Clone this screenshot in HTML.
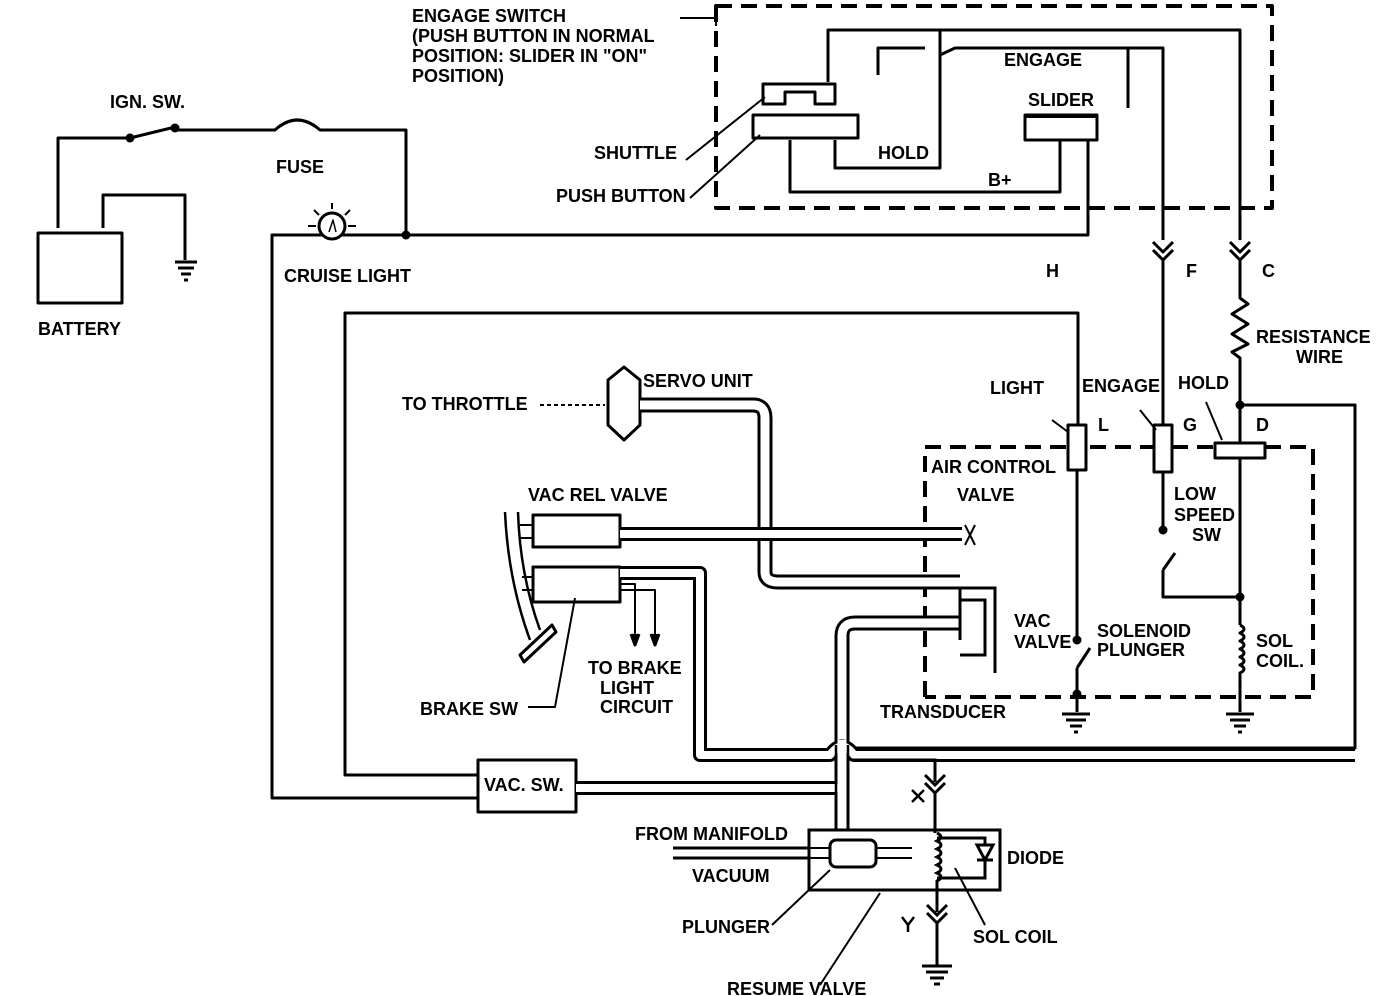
<!DOCTYPE html>
<html><head><meta charset="utf-8"><style>
html,body{margin:0;padding:0;background:#fff;}
svg{display:block}
text{font-family:"Liberation Sans",Arial,sans-serif;font-weight:bold;font-size:18px;fill:#000}
</style></head><body>
<svg width="1392" height="996" viewBox="0 0 1392 996" xmlns="http://www.w3.org/2000/svg">
<g fill="none" stroke="#000" stroke-width="3" stroke-linejoin="round">
<rect x="716" y="6" width="556" height="202" stroke-width="4" stroke-dasharray="16,9"/>
<path d="M680,18 H716 V26" stroke-width="2"/>
<path d="M763,104 V84 H835 V104 H815 V92 H785 V104 Z"/>
<rect x="753" y="115" width="105" height="23"/>
<rect x="1025" y="115" width="72" height="25"/>
<path d="M1025,116 H1097" stroke-width="4"/>
<path d="M828,82 V30 H1240 V240"/>
<path d="M940,30 V168 H835 V140"/>
<path d="M940,55 L955,48 H1163 V240"/>
<path d="M925,48 H878 V75"/>
<path d="M1128,48 V108"/>
<path d="M790,140 V192 H1060 V140"/>
<path d="M1088,140 V235 H272 V798 H478"/>
<path d="M686,160 L765,97 M690,198 L760,135" stroke-width="2"/>
<rect x="38" y="233" width="84" height="70"/>
<path d="M58,228 V138 H130 L175,127 M175,130 H275 Q297,110 320,130 H406 V235"/>
<path d="M103,228 V195 H185 V260"/>
<circle cx="130" cy="138" r="3" fill="#000"/><circle cx="175" cy="128" r="3" fill="#000"/>
<circle cx="406" cy="235" r="3" fill="#000"/>
<path d="M175,262 H197 M178,268 H194 M181,274 H191 M184,280 H188"/>
<circle cx="332" cy="226" r="13" fill="#fff"/>
<path d="M332,203 V209 M314,210 L319,215 M350,210 L345,215 M308,226 H316 M348,226 H356" stroke-width="2"/>
<path d="M329,232 L333,220 L336,232" stroke-width="1.5"/>
<path d="M478,775 H345 V313 H1078 V425"/>
<rect x="478" y="760" width="98" height="52" fill="#fff"/>
<path d="M1153,242 L1163,252 L1173,242 M1153,250 L1163,260 L1173,250"/>
<path d="M1230,242 L1240,252 L1250,242 M1230,250 L1240,260 L1250,250"/>
<path d="M1163,260 V425"/>
<path d="M1240,260 V298 L1248,304 L1232,314 L1248,324 L1232,334 L1248,344 L1232,352 L1240,358 V443"/>
<path d="M1240,405 H1355 V748 H851"/>
<circle cx="1240" cy="405" r="3" fill="#000"/>
<path d="M925,697 V447 H1066 M1090,447 H1153 M1172,447 H1215 M1265,447 H1313 V697 H925" stroke-width="4" stroke-dasharray="16,9"/>
<rect x="1068" y="425" width="18" height="45" fill="#fff"/>
<rect x="1154" y="425" width="18" height="47" fill="#fff"/>
<rect x="1215" y="443" width="50" height="15" fill="#fff"/>
<path d="M1052,420 L1068,432 M1140,410 L1156,430 M1206,402 L1222,440" stroke-width="2"/>
<path d="M1163,472 V530 M1163,570 L1175,553 M1163,570 V597 H1240"/>
<circle cx="1163" cy="530" r="3" fill="#000"/>
<path d="M1240,458 V625 M1240,625 q8,4 0,8 q8,4 0,8 q8,4 0,8 q8,4 0,8 q8,4 0,8 q8,4 0,8 V712"/>
<circle cx="1240" cy="597" r="3" fill="#000"/>
<path d="M1226,714 H1254 M1230,720 H1250 M1234,726 H1246 M1238,732 H1242"/>
<path d="M1077,470 V640 M1077,668 L1090,648 M1077,668 V712"/>
<circle cx="1077" cy="640" r="3" fill="#000"/><circle cx="1077" cy="694" r="3" fill="#000"/>
<path d="M1062,714 H1090 M1066,720 H1086 M1070,726 H1082 M1074,732 H1078"/>
<path d="M608,380 L624,367 L640,380 V425 L624,440 L608,425 Z" fill="#fff"/>
<path d="M540,405 H605" stroke-width="2" stroke-dasharray="4,3"/>
<path d="M505,512 Q508,580 530,640 M518,512 Q520,575 540,630" stroke-width="2.5"/>
<path d="M520,655 L552,625 L556,632 L524,662 Z"/>
<rect x="533" y="515" width="87" height="32"/>
<rect x="533" y="567" width="87" height="35"/>
<path d="M520,525 H533 M520,538 H533 M522,577 H533 M522,590 H533" stroke-width="2"/>
<path d="M575,598 L555,707 H528" stroke-width="2"/>
<path d="M620,584 H635 V640 M620,590 H655 V640" stroke-width="2"/>
<path d="M631,634 L635,645 L639,634 M651,634 L655,645 L659,634" fill="#000"/>
</g>
<g fill="none" stroke-linejoin="round" stroke-linecap="butt">
<path d="M640,405 H753 Q765,405 765,418 V572 Q765,582 778,582 H960" stroke="#000" stroke-width="15"/>
<path d="M640,405 H753 Q765,405 765,418 V572 Q765,582 778,582 H960" stroke="#fff" stroke-width="9"/>
<path d="M620,534 H962" stroke="#000" stroke-width="14"/>
<path d="M620,534 H962" stroke="#fff" stroke-width="8"/>
<path d="M960,623 H855 Q842,623 842,636 V838" stroke="#000" stroke-width="15"/>
<path d="M960,623 H855 Q842,623 842,636 V838" stroke="#fff" stroke-width="9"/>
<path d="M620,573 H700 V755 H830 Q842,738 854,755 H1355" stroke="#000" stroke-width="14"/>
<path d="M620,573 H700 V755 H830 Q842,738 854,755 H1355" stroke="#fff" stroke-width="8"/>
<path d="M576,788 H842" stroke="#000" stroke-width="14"/>
<path d="M576,788 H842" stroke="#fff" stroke-width="8"/>
<path d="M842,740 V838" stroke="#fff" stroke-width="9"/>
<path d="M836,745 V838 M848,745 V838" stroke="#000" stroke-width="2.5"/>
<path d="M673,853 H912" stroke="#000" stroke-width="13"/>
<path d="M673,853 H912" stroke="#fff" stroke-width="7"/>
</g>
<g fill="none" stroke="#000" stroke-width="3">
<path d="M960,588 H995 V673 M960,600 H985 V655 H960"/>
<path d="M960,588 V640" stroke-width="3"/>
<path d="M965,525 L975,545 M965,545 L975,525" stroke-width="2"/>
<rect x="809" y="830" width="191" height="60" fill="#fff"/>
<path d="M673,848 H830 M673,858 H830 M876,848 H912 M876,858 H912" stroke-width="2"/>
<rect x="830" y="840" width="46" height="27" rx="6" fill="#fff"/>
<path d="M851,760 H935 V782 M925,775 L935,785 L945,775 M925,783 L935,793 L945,783 M935,793 V833"/>
<path d="M937,833 q8,4 0,8 q8,4 0,8 q8,4 0,8 q8,4 0,8 q8,4 0,8 q8,4 0,8 V912"/>
<path d="M937,838 H985 V845 M985,860 V878 H937"/>
<path d="M977,845 H993 L985,860 Z M977,860 H993"/>
<path d="M927,905 L937,915 L947,905 M927,913 L937,923 L947,913 M937,923 V965"/>
<path d="M922,966 H952 M926,972 H948 M930,978 H944 M934,984 H940"/>
<path d="M772,925 L830,870 M820,985 L880,893 M985,925 L955,868" stroke-width="2"/>
<path d="M912,790 L924,802 M924,790 L912,802 M902,917 L908,925 M914,917 L908,925 M908,925 V932" stroke-width="2.5"/>
</g>
<text x="412" y="22">ENGAGE SWITCH</text>
<text x="412" y="42">(PUSH BUTTON IN NORMAL</text>
<text x="412" y="62">POSITION: SLIDER IN "ON"</text>
<text x="412" y="82">POSITION)</text>
<text x="110" y="108">IGN. SW.</text>
<text x="276" y="173">FUSE</text>
<text x="38" y="335">BATTERY</text>
<text x="284" y="282">CRUISE LIGHT</text>
<text x="1004" y="66">ENGAGE</text>
<text x="1028" y="106">SLIDER</text>
<text x="594" y="159">SHUTTLE</text>
<text x="878" y="159">HOLD</text>
<text x="556" y="202">PUSH BUTTON</text>
<text x="988" y="186">B+</text>
<text x="1046" y="277">H</text>
<text x="1186" y="277">F</text>
<text x="1262" y="277">C</text>
<text x="1256" y="343">RESISTANCE</text>
<text x="1296" y="363">WIRE</text>
<text x="990" y="394">LIGHT</text>
<text x="1082" y="392">ENGAGE</text>
<text x="1178" y="389">HOLD</text>
<text x="1098" y="431">L</text>
<text x="1183" y="431">G</text>
<text x="1256" y="431">D</text>
<text x="643" y="387">SERVO UNIT</text>
<text x="402" y="410">TO THROTTLE</text>
<text x="931" y="473">AIR CONTROL</text>
<text x="957" y="501">VALVE</text>
<text x="528" y="501">VAC REL VALVE</text>
<text x="1174" y="500">LOW</text>
<text x="1174" y="521">SPEED</text>
<text x="1192" y="541">SW</text>
<text x="1014" y="627">VAC</text>
<text x="1014" y="648">VALVE</text>
<text x="1097" y="637">SOLENOID</text>
<text x="1097" y="656">PLUNGER</text>
<text x="1256" y="647">SOL</text>
<text x="1256" y="667">COIL.</text>
<text x="588" y="674">TO BRAKE</text>
<text x="600" y="694">LIGHT</text>
<text x="600" y="713">CIRCUIT</text>
<text x="420" y="715">BRAKE SW</text>
<text x="880" y="718">TRANSDUCER</text>
<text x="484" y="791">VAC. SW.</text>
<text x="635" y="840">FROM MANIFOLD</text>
<text x="692" y="882">VACUUM</text>
<text x="1007" y="864">DIODE</text>
<text x="682" y="933">PLUNGER</text>
<text x="973" y="943">SOL COIL</text>
<text x="727" y="995">RESUME VALVE</text>
</svg>
</body></html>
